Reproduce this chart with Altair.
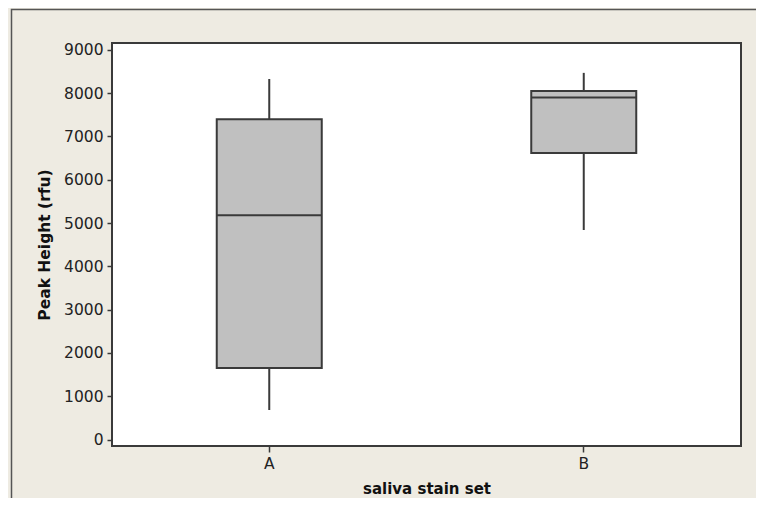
import altair as alt
import pandas as pd

groups = ["A", "B"]
lower = [680, 4840]
q1 = [1650, 6620]
median = [5180, 7900]
q3 = [7400, 8050]
upper = [8330, 8470]

df = pd.DataFrame({"group": groups, "lower": lower, "q1": q1,
                   "median": median, "q3": q3, "upper": upper})

FONT = "DejaVu Sans"
DARK = "#3a3a3a"

x = alt.X("group:N",
          scale=alt.Scale(paddingInner=0.1, paddingOuter=0.05),
          axis=alt.Axis(title="saliva stain set", labelAngle=0, labelFont=FONT,
                        labelFontSize=15.5, labelColor="#222", labelPadding=4,
                        tickSize=6, tickColor=DARK, tickWidth=1.5, domain=False,
                        titleFont=FONT, titleFontSize=15, titleFontWeight="bold",
                        titleColor="#111", titleX=314.5, titleY=47,
                        titleBaseline="alphabetic", titleAlign="center"))

yscale = alt.Scale(domain=[-150, 9160], nice=False, zero=False)
yaxis = alt.Axis(title="Peak Height (rfu)", values=list(range(0, 9001, 1000)),
                 format="d",
                 labelFont=FONT, labelFontSize=15.5, labelColor="#222", labelPadding=4,
                 tickSize=5, tickColor=DARK, tickWidth=1.5, domain=False, grid=False,
                 titleFont=FONT, titleFontSize=15.5, titleFontWeight="bold",
                 titleColor="#111", titleX=-63, titleY=201.5, titleAngle=270,
                 titleBaseline="alphabetic", titleAlign="center")

frame = alt.Chart(pd.DataFrame({"k": [0]})).mark_rect(
    filled=False, stroke="#555", strokeWidth=1.5
).encode(x=alt.value(-100.5), x2=alt.value(900), y=alt.value(-33.5), y2=alt.value(700))

whisk = alt.Chart(df).mark_rule(color=DARK, strokeWidth=2).encode(
    x=x, y=alt.Y("lower:Q", scale=yscale, axis=yaxis), y2="upper:Q")

box = alt.Chart(df).mark_bar(size=105, fill="#c0c0c0", stroke=DARK,
                             strokeWidth=2, opacity=1).encode(
    x=x, y=alt.Y("q1:Q", scale=yscale), y2="q3:Q")

med = alt.Chart(df).mark_tick(size=105, thickness=2, color=DARK, opacity=1).encode(
    x=x, y=alt.Y("median:Q", scale=yscale))

chart = alt.layer(frame, whisk, box, med).properties(
    width=629, height=403,
    autosize=alt.AutoSizeParams(type="none"),
    padding={"left": 104, "top": 35, "right": 15, "bottom": 52},
    background="#eeebe2",
).configure_view(fill="white", stroke=DARK, strokeWidth=2)

chart.save("out.html", embed_options={"renderer": "svg", "actions": False})
